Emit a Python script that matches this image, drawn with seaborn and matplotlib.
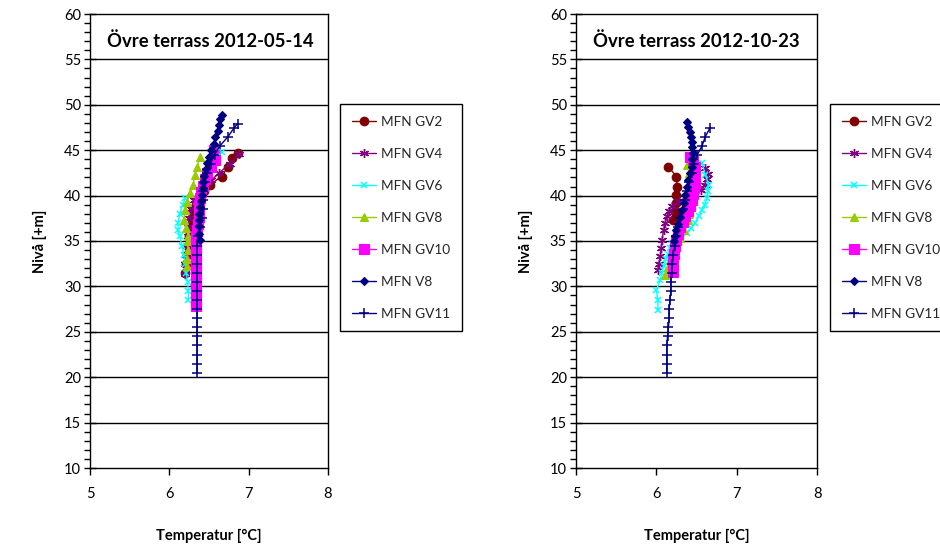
import matplotlib
matplotlib.use("Agg")
import matplotlib.pyplot as plt
import seaborn as sns
import numpy as np
from matplotlib.ticker import MultipleLocator

# ---------------- data: left panel (2012-05-14) ----------------
L_GV2_z = [31.5, 32.5, 33.5, 34.5, 35.5, 36.5, 37.5, 38.5, 39.5, 40.5, 41.2, 42.1, 43.2, 44.1, 44.7]
L_GV2_t = [6.20, 6.21, 6.22, 6.23, 6.25, 6.27, 6.28, 6.30, 6.35, 6.44, 6.51, 6.66, 6.74, 6.79, 6.87]

L_GV4_z = [31.4, 32.5, 33.5, 34.5, 35.5, 36.5, 37.5, 38.5, 39.5, 40.5, 41.7, 42.5, 43.5, 44.6]
L_GV4_t = [6.20, 6.20, 6.21, 6.22, 6.23, 6.24, 6.25, 6.27, 6.31, 6.42, 6.53, 6.63, 6.76, 6.88]

L_GV6_z = [28.5, 29.5, 30.5, 31.5, 32.5, 33.5, 34.5, 35.5, 36.2, 37.0, 38.0, 39.0, 39.7]
L_GV6_t = [6.24, 6.24, 6.23, 6.21, 6.20, 6.18, 6.16, 6.13, 6.11, 6.11, 6.13, 6.17, 6.20]
L_GV6_extra_z = [44.8]
L_GV6_extra_t = [6.66]

L_GV8_z = [32.2, 33.0, 34.0, 35.0, 35.5, 36.4, 37.3, 38.4, 39.3, 40.25, 41.2, 42.3, 43.2, 44.3]
L_GV8_t = [6.22, 6.22, 6.23, 6.24, 6.24, 6.21, 6.18, 6.20, 6.22, 6.26, 6.30, 6.32, 6.35, 6.39]

L_GV10_z = [27.8, 28.5, 29.2, 29.9, 30.6, 31.3, 32.0, 32.7, 33.4, 34.1, 34.8, 35.5, 36.2,
            36.9, 37.6, 38.3, 39.0, 39.7, 40.4, 41.1, 41.8, 42.5, 43.2, 43.9, 44.5, 45.0]
L_GV10_t = [6.34, 6.34, 6.34, 6.34, 6.34, 6.34, 6.34, 6.34, 6.34, 6.34, 6.34, 6.34, 6.35,
            6.36, 6.37, 6.37, 6.38, 6.39, 6.40, 6.42, 6.45, 6.48, 6.52, 6.57, 6.58, 6.56]

L_V8_z = [35.1, 35.8, 36.6, 37.3, 38.0, 38.7, 39.4, 40.1, 40.8, 41.5, 42.2, 42.9, 43.6,
          44.3, 45.0, 45.7, 46.4, 47.1, 47.8, 48.4, 48.9]
L_V8_t = [6.39, 6.38, 6.37, 6.37, 6.38, 6.39, 6.40, 6.41, 6.42, 6.43, 6.44, 6.46, 6.48,
          6.50, 6.53, 6.56, 6.58, 6.61, 6.63, 6.64, 6.67]

L_GV11_z = [20.5, 21.5, 22.5, 23.5, 24.5, 25.5, 26.5, 27.5, 28.5, 29.5, 30.5, 31.5, 32.5, 33.5,
            34.5, 35.5, 36.5, 37.5, 38.5, 39.5, 40.5, 41.5, 42.5, 43.5, 44.5, 45.5, 46.5, 47.5, 47.9]
L_GV11_t = [6.35, 6.35, 6.35, 6.35, 6.35, 6.35, 6.35, 6.35, 6.35, 6.35, 6.35, 6.35, 6.35, 6.35,
            6.35, 6.36, 6.39, 6.41, 6.42, 6.42, 6.42, 6.45, 6.48, 6.52, 6.57, 6.64, 6.74, 6.82, 6.86]

# ---------------- data: right panel (2012-10-23) ----------------
R_GV2_z = [37.3, 38.2, 39.2, 40.1, 41.0, 42.1, 43.2]
R_GV2_t = [6.21, 6.23, 6.25, 6.25, 6.26, 6.25, 6.15]

R_GV4_z = [31.8, 32.5, 33.3, 34.2, 35.1, 36.2, 37.0, 37.7, 38.3, 38.8, 39.4, 40.0, 40.6,
           41.2, 41.8, 42.4, 43.0]
R_GV4_t = [6.02, 6.03, 6.05, 6.06, 6.07, 6.09, 6.11, 6.13, 6.16, 6.19, 6.28, 6.42, 6.55,
           6.60, 6.63, 6.64, 6.61]

R_GV6_z = [27.4, 28.5, 29.6, 30.7, 31.5, 32.2, 33.0, 33.6, 34.2, 34.75, 35.5, 35.85, 36.4,
           36.95, 37.7, 38.4, 39.0, 39.7, 40.5, 41.2, 42.3, 43.55]
R_GV6_t = [6.02, 6.02, 6.00, 6.05, 6.07, 6.09, 6.12, 6.15, 6.17, 6.19, 6.27, 6.38, 6.43,
           6.48, 6.53, 6.57, 6.60, 6.63, 6.64, 6.65, 6.61, 6.57]

R_GV8_z = [31.25, 32.1, 32.9, 33.6, 34.4, 35.3, 36.2, 37.3, 38.0, 38.8, 39.5, 40.25, 41.0,
           41.7, 42.5, 43.4]
R_GV8_t = [6.11, 6.14, 6.17, 6.21, 6.25, 6.30, 6.34, 6.40, 6.41, 6.42, 6.43, 6.44, 6.44,
           6.44, 6.41, 6.38]

R_GV10_z = [31.6, 32.3, 32.9, 33.6, 34.4, 35.1, 35.8, 36.5, 37.1, 37.7, 38.3, 38.9, 39.5,
            40.2, 40.8, 41.35, 42.0, 42.6, 43.2, 43.8, 44.3]
R_GV10_t = [6.21, 6.21, 6.21, 6.22, 6.23, 6.25, 6.27, 6.30, 6.33, 6.36, 6.39, 6.42, 6.44,
            6.46, 6.47, 6.48, 6.48, 6.48, 6.48, 6.46, 6.42]

R_V8_z = [35.0, 35.5, 36.2, 36.9, 37.6, 38.4, 39.2, 40.1, 40.9, 41.7, 42.5, 43.2, 44.0,
          44.7, 45.3, 45.9, 46.5, 47.0, 47.6, 48.1]
R_V8_t = [6.22, 6.23, 6.25, 6.27, 6.30, 6.32, 6.34, 6.36, 6.38, 6.40, 6.42, 6.44, 6.45,
          6.46, 6.45, 6.44, 6.43, 6.42, 6.40, 6.38]

R_GV11_z = [20.5, 21.5, 22.5, 23.5, 24.5, 25.5, 26.5, 27.5, 28.5, 29.5, 30.5, 31.5, 32.5, 33.5,
            34.5, 35.5, 36.5, 37.5, 38.5, 39.5, 40.5, 41.5, 42.5, 43.5, 44.5, 45.5, 46.5, 47.5]
R_GV11_t = [6.13, 6.13, 6.13, 6.13, 6.14, 6.15, 6.16, 6.16, 6.17, 6.18, 6.18, 6.19, 6.20, 6.21,
            6.23, 6.25, 6.27, 6.30, 6.33, 6.36, 6.38, 6.41, 6.44, 6.47, 6.51, 6.57, 6.61, 6.67]

titles = ["Övre terrass 2012-05-14", "Övre terrass 2012-10-23"]
series_names = ["MFN GV2", "MFN GV4", "MFN GV6", "MFN GV8", "MFN GV10", "MFN V8", "MFN GV11"]
x_label = "Temperatur [°C]"
y_label = "Nivå [+m]"

left_data = [(L_GV2_t, L_GV2_z), (L_GV4_t, L_GV4_z), (L_GV6_t, L_GV6_z), (L_GV8_t, L_GV8_z),
             (L_GV10_t, L_GV10_z), (L_V8_t, L_V8_z), (L_GV11_t, L_GV11_z)]
right_data = [(R_GV2_t, R_GV2_z), (R_GV4_t, R_GV4_z), (R_GV6_t, R_GV6_z), (R_GV8_t, R_GV8_z),
              (R_GV10_t, R_GV10_z), (R_V8_t, R_V8_z), (R_GV11_t, R_GV11_z)]

styles = [
    dict(color="#800000", marker="o", ms=6.2, mew=0.8),
    dict(color="#800080", marker=(6, 2, 0), ms=6.5, mew=1.0),
    dict(color="#00FFFF", marker="x", ms=5, mew=1.1),
    dict(color="#99CC00", marker="^", ms=5.8, mew=0.8),
    dict(color="#FF00FF", marker="s", ms=7, mew=0.8),
    dict(color="#000080", marker="D", ms=4.2, mew=0.8),
    dict(color="#000080", marker="+", ms=7, mew=1.1),
]

sns.set_theme(style="white")
plt.rcParams["font.family"] = ["Lato", "DejaVu Sans"]

fig = plt.figure(figsize=(9.4, 5.44), dpi=100)
ax_pos = [(90 / 940, 1 - 468 / 544, 238 / 940, 454 / 544),
          (576 / 940, 1 - 468 / 544, 241 / 940, 454 / 544)]
legend_anchor = [(340 / 940, 1 - 104 / 544), (830 / 940, 1 - 104 / 544)]

for i, (data, title) in enumerate(zip([left_data, right_data], titles)):
    ax = fig.add_axes(ax_pos[i])
    for (t, z), st, name in zip(data, styles, series_names):
        sns.lineplot(x=t, y=z, sort=False, estimator=None, ax=ax, color=st["color"],
                     marker=st["marker"], markersize=st["ms"], markeredgewidth=st["mew"],
                     markeredgecolor=st["color"], markerfacecolor=st["color"],
                     linewidth=1.0, label=name, legend=False)
    if i == 0:
        st = styles[2]
        sns.lineplot(x=L_GV6_extra_t, y=L_GV6_extra_z, sort=False, estimator=None, ax=ax,
                     color=st["color"], marker=st["marker"], markersize=st["ms"],
                     markeredgewidth=st["mew"], markeredgecolor=st["color"],
                     linewidth=1.0, legend=False)
    ax.set_xlim(5, 8)
    ax.set_ylim(10, 60)
    ax.xaxis.set_major_locator(MultipleLocator(1))
    ax.yaxis.set_major_locator(MultipleLocator(5))
    ax.yaxis.set_minor_locator(MultipleLocator(1))
    for yv in range(15, 60, 5):
        ax.axhline(yv, color="black", lw=1.0, zorder=0)
    for sp in ax.spines.values():
        sp.set_color("black")
        sp.set_linewidth(1.0)
        sp.set_visible(True)
    ax.tick_params(axis="y", which="major", direction="inout", length=9, width=1,
                   color="black", left=True, labelsize=10.5, pad=2, labelcolor="black")
    ax.tick_params(axis="y", which="minor", direction="out", length=4, width=1,
                   color="black", left=True)
    ax.tick_params(axis="x", which="major", direction="out", length=5, width=1,
                   color="black", bottom=True, labelsize=10.5, pad=9, labelcolor="black")
    ax.set_xlabel(x_label, fontsize=10.5, fontweight="bold", labelpad=20, color="black")
    ax.set_ylabel(y_label, fontsize=10.5, fontweight="bold", labelpad=12, color="black")
    ax.text(0.07, 0.94, title, transform=ax.transAxes, fontsize=13.3, fontweight="bold",
            ha="left", va="center", color="black")
    handles, labels = ax.get_legend_handles_labels()
    leg = ax.legend(handles[:7], labels[:7], loc="upper left", bbox_to_anchor=legend_anchor[i],
                    bbox_transform=fig.transFigure, frameon=True, fancybox=False,
                    edgecolor="black", framealpha=1, fontsize=9.8, labelspacing=1.47,
                    handlelength=1.8, handletextpad=0.35, borderpad=0.85, borderaxespad=0)
    leg.get_frame().set_linewidth(1.0)

fig.savefig("out.png", dpi=100)
